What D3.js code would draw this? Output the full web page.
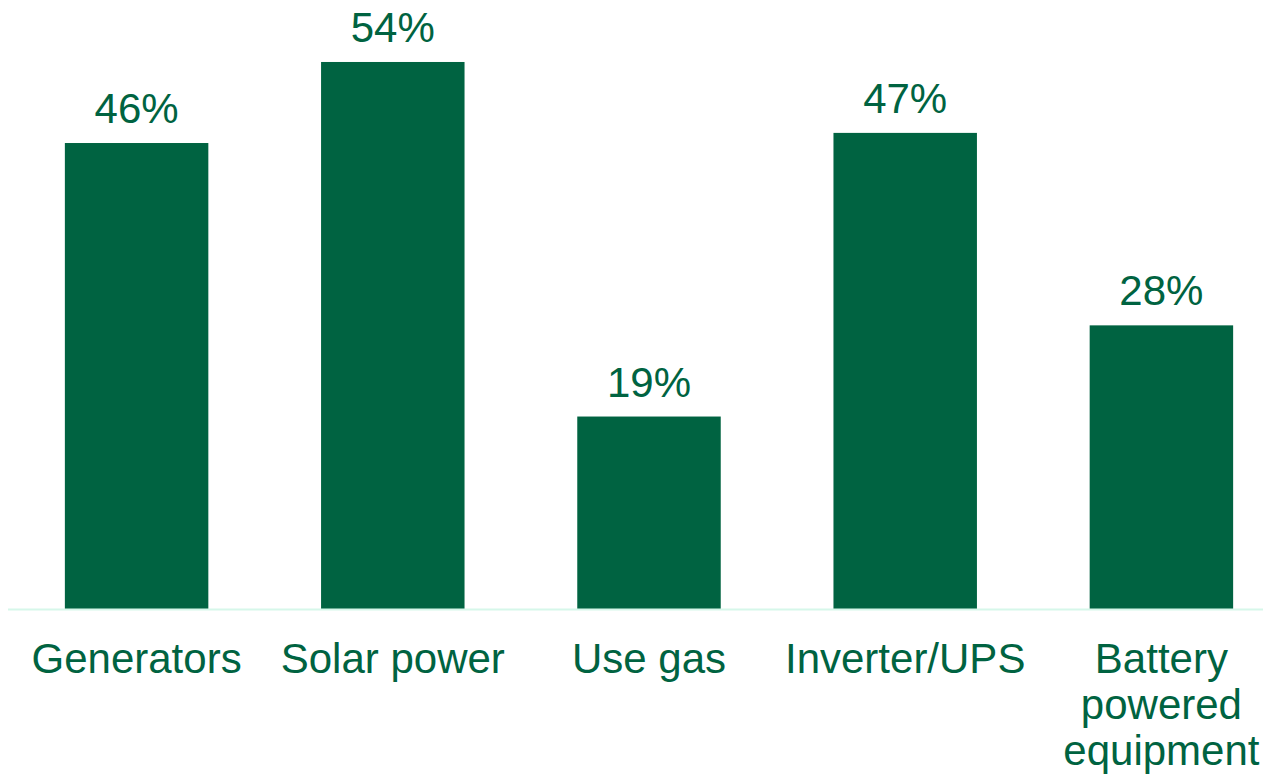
<!DOCTYPE html>
<html>
<head>
<meta charset="utf-8">
<script src="https://cdn.jsdelivr.net/npm/d3@7"></script>
<style>
html,body{margin:0;padding:0;background:#fff;}
svg{display:block;}
</style>
</head>
<body>
<svg id="chart" width="1263" height="779"></svg>
<script>
const categories = ["Generators", "Solar power", "Use gas", "Inverter/UPS", "Battery powered equipment"];
const labelLines = [["Generators"], ["Solar power"], ["Use gas"], ["Inverter/UPS"], ["Battery", "powered", "equipment"]];
const values = [46, 54, 19, 47, 28];
const valueLabels = ["46%", "54%", "19%", "47%", "28%"];

const green = "#006341";
const svg = d3.select("#chart");

const x = d3.scaleBand().domain(categories).range([8.5, 1289.5]).paddingInner(0.44).paddingOuter(0.22);
const y = d3.scaleLinear().domain([0, 60]).range([609, 601 - 60 * 10.13 + 8]);

// bars
svg.selectAll("rect.bar").data(values).join("rect")
  .attr("class", "bar")
  .attr("x", (d, i) => x(categories[i]))
  .attr("width", x.bandwidth())
  .attr("y", d => y(d))
  .attr("height", d => y(0) - y(d))
  .attr("fill", green);

// baseline
svg.append("line")
  .attr("x1", 8).attr("x2", 1263)
  .attr("y1", y(0) + 0.5).attr("y2", y(0) + 0.5)
  .attr("stroke", "#d6f7ea").attr("stroke-width", 2);

// value labels
svg.selectAll("text.val").data(values).join("text")
  .attr("class", "val")
  .attr("x", (d, i) => x(categories[i]) + x.bandwidth() / 2)
  .attr("y", d => y(d) - 20)
  .attr("text-anchor", "middle")
  .attr("font-family", "Liberation Sans, Arial, sans-serif")
  .attr("font-size", 42)
  .attr("fill", green)
  .text((d, i) => valueLabels[i]);

// category labels
const cat = svg.selectAll("text.cat").data(categories).join("text")
  .attr("class", "cat")
  .attr("text-anchor", "middle")
  .attr("font-family", "Liberation Sans, Arial, sans-serif")
  .attr("font-size", 42)
  .attr("fill", green);
cat.each(function(d, i) {
  const t = d3.select(this);
  labelLines[i].forEach((ln, j) => {
    t.append("tspan")
      .attr("x", x(d) + x.bandwidth() / 2)
      .attr("y", 673 + j * 46)
      .text(ln);
  });
});
</script>
</body>
</html>
